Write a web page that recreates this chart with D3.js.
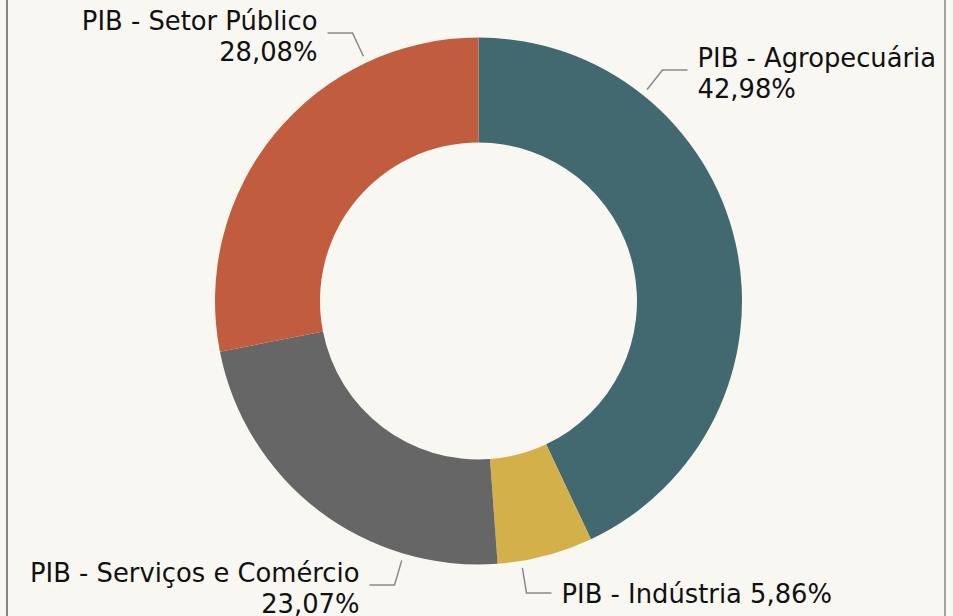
<!DOCTYPE html>
<html>
<head>
<meta charset="utf-8">
<script src="https://cdn.jsdelivr.net/npm/d3@7"></script>
<style>
  html, body { margin: 0; padding: 0; background: #f8f7f2; }
  svg { display: block; }
</style>
</head>
<body>
<svg id="chart" width="953" height="616"></svg>
<script>
// Composição do PIB por setor (%)
const categories = ["PIB - Agropecuária", "PIB - Indústria", "PIB - Serviços e Comércio", "PIB - Setor Público"];
const values = [42.98, 5.86, 23.07, 28.08];
const valueLabels = ["42,98%", "5,86%", "23,07%", "28,08%"];
const colors = ["#436970", "#d4b04b", "#666666", "#c25c3e"];

// Label layout: elbow point of each leader (relative to centre), side and line breaking
const labelLayout = [
  { dx: 184, dy: -231, side: "right", twoLines: true },
  { dx: 48, dy: 292, side: "right", twoLines: false },
  { dx: -84, dy: 284, side: "left", twoLines: true },
  { dx: -126, dy: -268, side: "left", twoLines: true }
];

const width = 953, height = 616;
const cx = 478.5, cy = 301;
const outerR = 263.5, innerR = 158.5;

const svg = d3.select("#chart");

svg.append("rect").attr("width", width).attr("height", height).attr("fill", "#f8f7f2");
// Frame sides
svg.append("line").attr("x1", 7).attr("x2", 7).attr("y1", 0).attr("y2", height)
  .attr("stroke", "#858585").attr("stroke-width", 2);
svg.append("line").attr("x1", 945).attr("x2", 945).attr("y1", 0).attr("y2", height)
  .attr("stroke", "#858585").attr("stroke-width", 1.5);

const g = svg.append("g").attr("transform", `translate(${cx},${cy})`);

const pie = d3.pie().sort(null).value(d => d)(values);
const arc = d3.arc().innerRadius(innerR).outerRadius(outerR);

g.selectAll("path.slice")
  .data(pie)
  .join("path")
  .attr("class", "slice")
  .attr("d", arc)
  .attr("fill", (d, i) => colors[i]);

// Leader lines and labels
const fontSize = 25.8;
const lineGap = 32;
pie.forEach((d, i) => {
  const L = labelLayout[i];
  const ang = Math.atan2(L.dy, L.dx);
  const startR = outerR + 7;
  const sx = Math.cos(ang) * startR, sy = Math.sin(ang) * startR;
  const dir = L.side === "right" ? 1 : -1;
  const hx = L.dx + dir * 25;
  g.append("polyline")
    .attr("points", [[sx, sy], [L.dx, L.dy], [hx, L.dy]].map(p => p.join(",")).join(" "))
    .attr("fill", "none")
    .attr("stroke", "#8a8a8a")
    .attr("stroke-width", 1.5);

  const tx = hx + dir * 10;
  const text = g.append("text")
    .attr("x", tx)
    .attr("text-anchor", L.side === "right" ? "start" : "end")
    .attr("font-family", "'DejaVu Sans', Verdana, sans-serif")
    .attr("font-size", fontSize)
    .attr("fill", "#111");
  if (L.twoLines) {
    text.append("tspan").attr("x", tx).attr("y", L.dy - 3).text(categories[i]);
    text.append("tspan").attr("x", tx).attr("y", L.dy - 4 + lineGap).text(valueLabels[i]);
  } else {
    text.append("tspan").attr("x", tx).attr("y", L.dy + 10).text(categories[i] + " " + valueLabels[i]);
  }
});
</script>
</body>
</html>
